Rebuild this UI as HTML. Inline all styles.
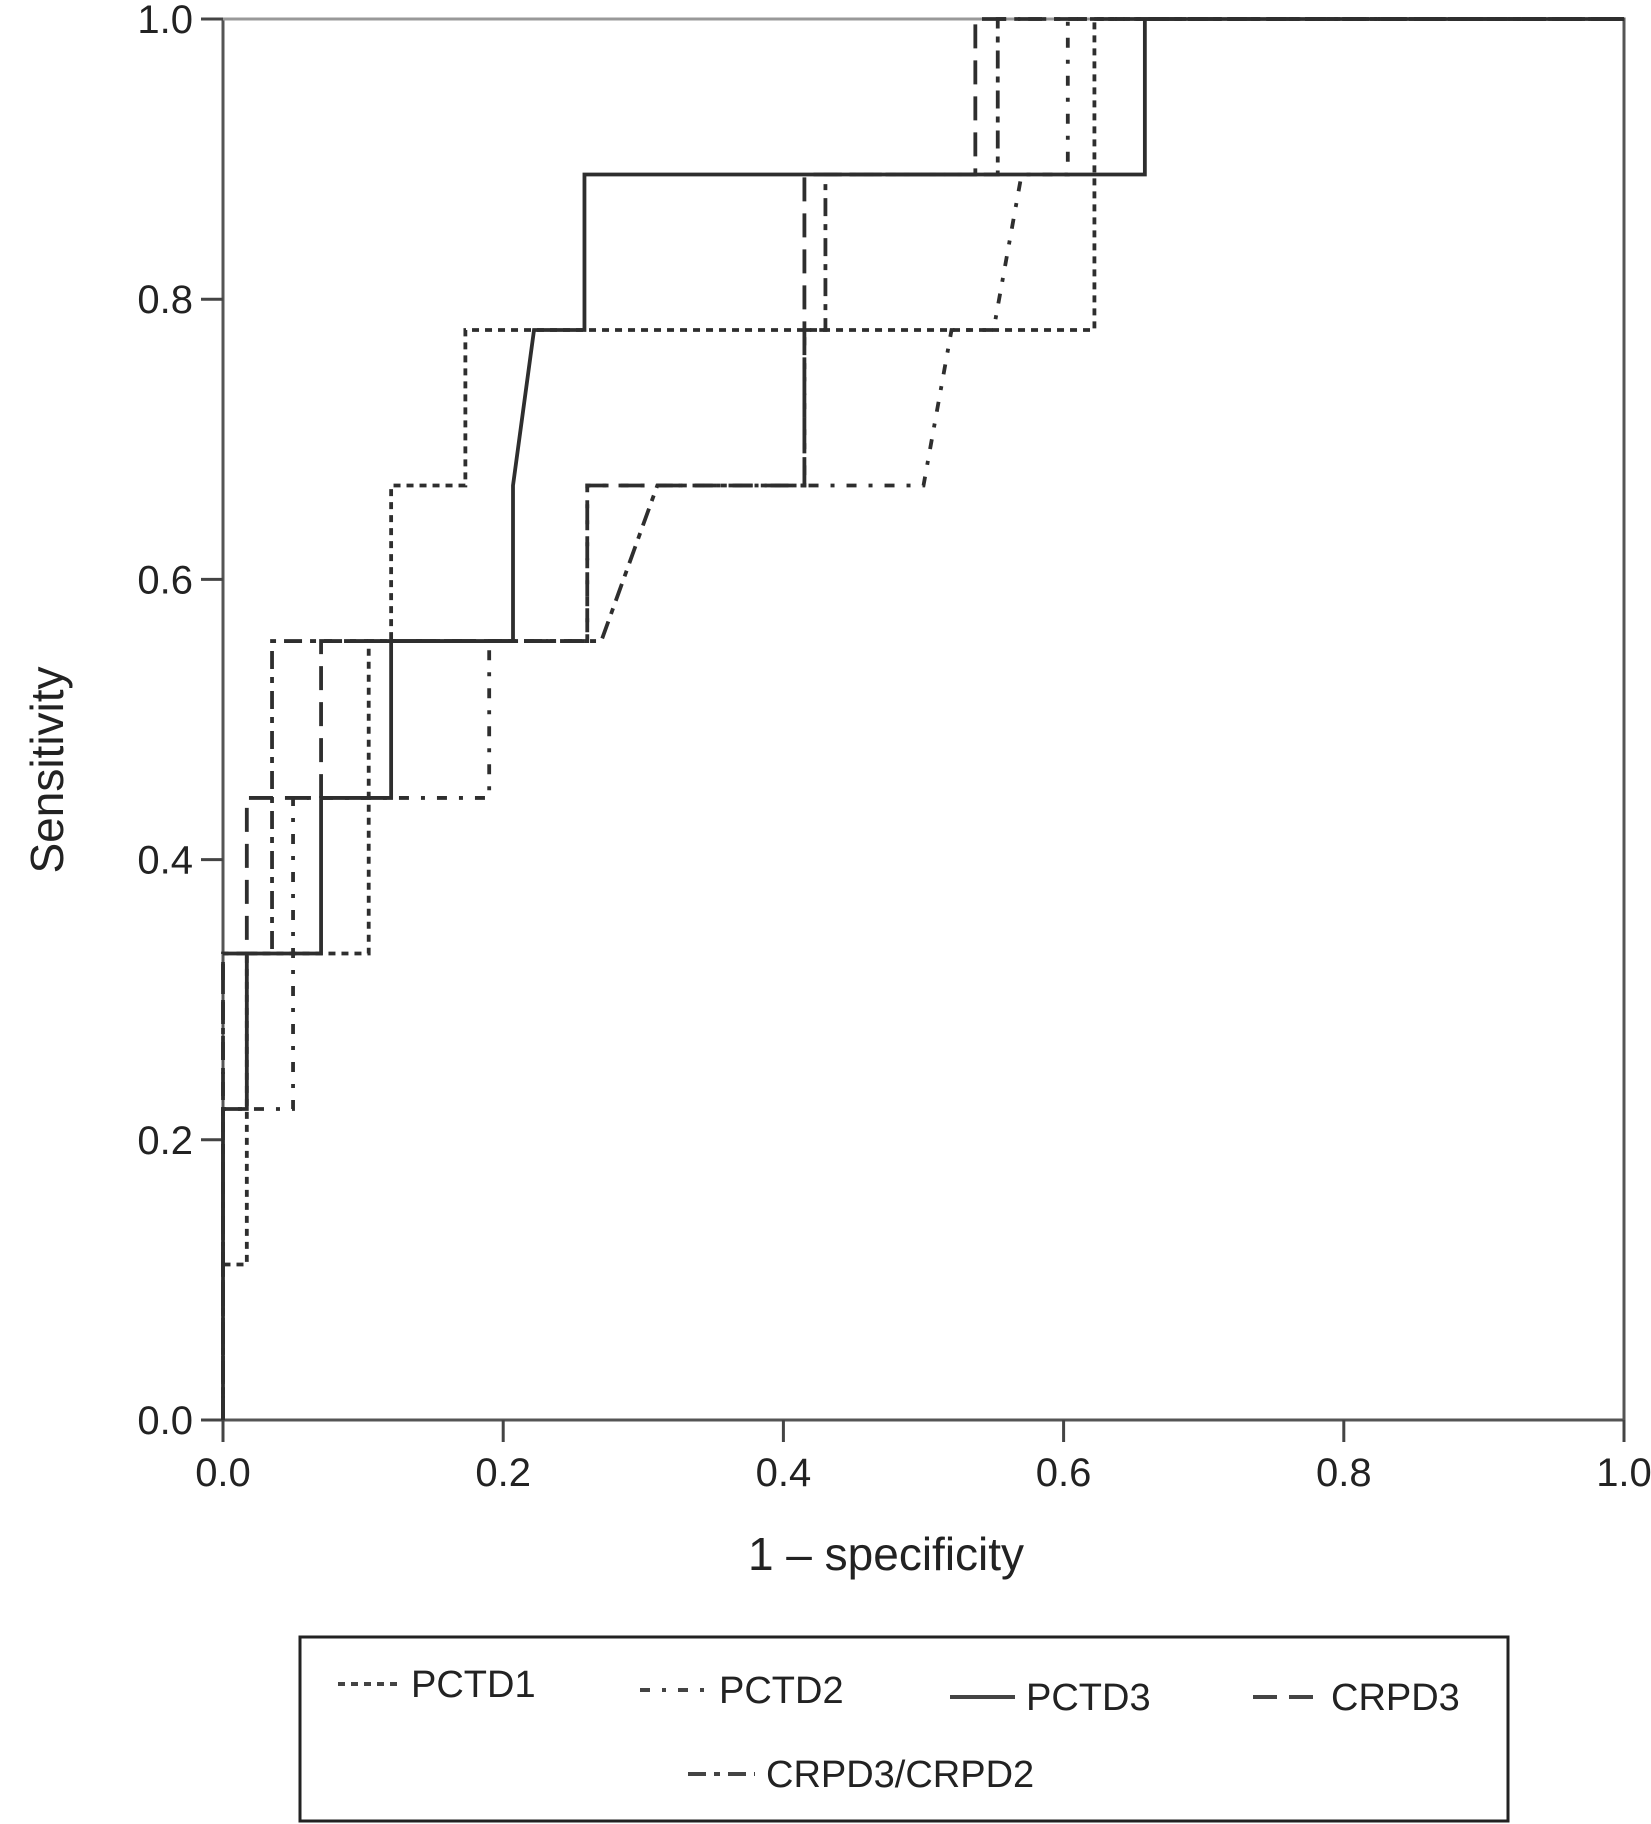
<!DOCTYPE html>
<html><head><meta charset="utf-8"><style>
html,body{margin:0;padding:0;background:#fff;}
svg{display:block;font-family:"Liberation Sans",Arial,sans-serif;}
</style></head><body>
<svg id="chart" width="1651" height="1824" viewBox="0 0 1651 1824" xmlns="http://www.w3.org/2000/svg">
<g id="axes"></g>
<g id="series"></g>
<g id="legend"></g>
</svg>
<script>
const xTicks = [0, 0.2, 0.4, 0.6, 0.8, 1.0];
const yTicks = [0, 0.2, 0.4, 0.6, 0.8, 1.0];
const tickLabels = ["0.0","0.2","0.4","0.6","0.8","1.0"];
const seriesNames = ["PCTD1","PCTD2","PCTD3","CRPD3","CRPD3/CRPD2"];
const pctd1 = [[0,0],[0,0.111],[0.017,0.111],[0.017,0.333],[0.104,0.333],[0.104,0.556],[0.12,0.556],[0.12,0.667],[0.173,0.667],[0.173,0.778],[0.622,0.778],[0.622,1],[1,1]];
const pctd2 = [[0,0],[0,0.222],[0.05,0.222],[0.05,0.444],[0.12,0.444],[0.19,0.444],[0.19,0.556],[0.26,0.556],[0.26,0.667],[0.5,0.667],[0.52,0.778],[0.55,0.778],[0.57,0.889],[0.603,0.889],[0.603,1],[1,1]];
const pctd3 = [[0,0],[0,0.222],[0.017,0.222],[0.017,0.333],[0.07,0.333],[0.07,0.444],[0.12,0.444],[0.12,0.556],[0.207,0.556],[0.207,0.667],[0.222,0.778],[0.258,0.778],[0.258,0.889],[0.658,0.889],[0.658,1],[1,1]];
const crpd3 = [[0,0],[0,0.333],[0.017,0.333],[0.017,0.444],[0.07,0.444],[0.07,0.556],[0.26,0.556],[0.26,0.667],[0.415,0.667],[0.415,0.889],[0.537,0.889],[0.537,1],[1,1]];
const crpd32 = [[0,0],[0,0.333],[0.035,0.333],[0.035,0.556],[0.27,0.556],[0.31,0.667],[0.415,0.667],[0.415,0.778],[0.43,0.778],[0.43,0.889],[0.553,0.889],[0.553,1],[1,1]];

const L=223,R=1624,T=19,B=1420;
const NS="http://www.w3.org/2000/svg";
function sx(v){return L+v*(R-L);}
function sy(v){return B-v*(B-T);}
function mk(tag,attrs,parent){const e=document.createElementNS(NS,tag);for(const k in attrs)e.setAttribute(k,attrs[k]);parent.appendChild(e);return e;}
const axes=document.getElementById('axes');
const series=document.getElementById('series');
const legend=document.getElementById('legend');

let f=mk('rect',{x:L,y:T,width:R-L,height:B-T,fill:'none',stroke:'#555','stroke-width':3},axes);


let tl=mk('line',{x1:L,y1:T,x2:R,y2:T,stroke:'#999','stroke-width':3},axes);



xTicks.forEach((v,i)=>{
  const t=mk('line',{x1:sx(v),y1:B,x2:sx(v),y2:B+22,stroke:'#444','stroke-width':3},axes);
  
  
  const tx=mk('text',{x:sx(v),y:B+66,'font-size':40,'text-anchor':'middle',fill:'#222'},axes);
  tx.textContent=tickLabels[i];
  
  
});
yTicks.forEach((v,i)=>{
  const t=mk('line',{x1:L-22,y1:sy(v),x2:L,y2:sy(v),stroke:'#444','stroke-width':3},axes);
  
  
  const tx=mk('text',{x:L-30,y:sy(v)+14,'font-size':40,'text-anchor':'end',fill:'#222'},axes);
  tx.textContent=tickLabels[i];
  
  
});
let xt=mk('text',{x:886,y:1570,'font-size':46,'text-anchor':'middle',fill:'#222'},axes);
xt.textContent='1 \u2013 specificity';


let yt=mk('text',{x:0,y:0,'font-size':46,'text-anchor':'middle',fill:'#222',transform:'translate(63,770) rotate(-90)'},axes);
yt.textContent='Sensitivity';



const styles=[
 {d:'7,6'},
 {d:'10,12,4,12'},
 {d:''},
 {d:'24,12'},
 {d:'18,8,6,8'}
];
const data=[pctd1,pctd2,pctd3,crpd3,crpd32];
data.forEach((pts,i)=>{
  const p=mk('polyline',{points:pts.map(q=>sx(q[0])+','+sy(q[1])).join(' '),fill:'none',stroke:'#2e2e2e','stroke-width':3.8,'stroke-dasharray':styles[i].d||'none'},series);
  
  
});

let lb=mk('rect',{x:300,y:1637,width:1208,height:184,fill:'none',stroke:'#222','stroke-width':3},legend);


const legPos=[[338,400,1697],[640,708,1703],[950,1015,1710],[1253,1320,1710],[688,755,1787]];
legPos.forEach((p,i)=>{
  const g=mk('g',{},legend);
  
  
  mk('line',{x1:p[0],y1:p[2]-13,x2:p[1],y2:p[2]-13,stroke:'#444','stroke-width':4,'stroke-dasharray':styles[i].d||'none'},g);
  const t=mk('text',{x:p[1]+11,y:p[2],'font-size':38,fill:'#222'},g);
  t.textContent=seriesNames[i];
});
</script>
</body></html>
